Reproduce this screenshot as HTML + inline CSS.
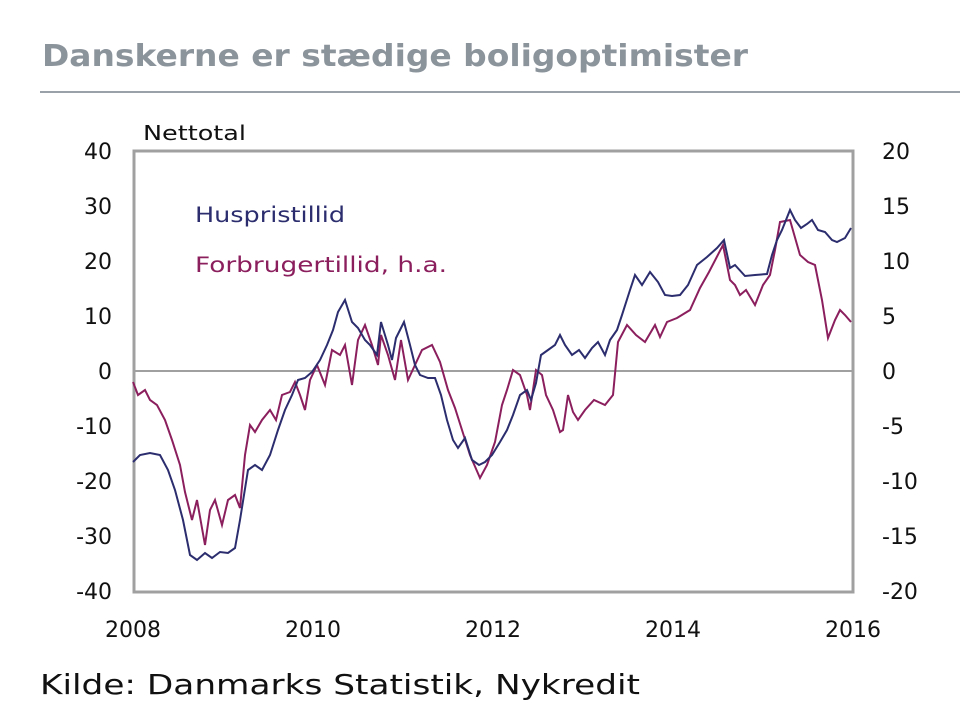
<!DOCTYPE html>
<html><head><style>
body{margin:0;background:#fff;width:960px;height:716px;overflow:hidden;font-family:"DejaVu Sans","Liberation Sans",sans-serif}
</style></head><body>
<svg width="960" height="716" xmlns="http://www.w3.org/2000/svg" style="position:absolute;left:0;top:0">
<text x="42" y="66" font-size="30" font-weight="bold" fill="#8b939b" font-family="DejaVu Sans, sans-serif" textLength="706" lengthAdjust="spacingAndGlyphs">Danskerne er stædige boligoptimister</text>
<line x1="40" y1="92" x2="960" y2="92" stroke="#9aa1a8" stroke-width="2"/>
<rect x="134" y="151" width="719" height="441" fill="none" stroke="#a0a0a0" stroke-width="3"/>
<line x1="134" y1="371" x2="853" y2="371" stroke="#a0a0a0" stroke-width="2"/>
<g font-size="22" fill="#111" font-family="DejaVu Sans, sans-serif">
<text x="143" y="140" font-size="20" textLength="103" lengthAdjust="spacingAndGlyphs">Nettotal</text>
<g text-anchor="end">
<text x="112" y="159">40</text><text x="112" y="214">30</text><text x="112" y="269">20</text><text x="112" y="324">10</text><text x="112" y="379">0</text><text x="112" y="434">-10</text><text x="112" y="489">-20</text><text x="112" y="544">-30</text><text x="112" y="599">-40</text>
</g>
<g text-anchor="start">
<text x="882" y="159">20</text><text x="882" y="214">15</text><text x="882" y="269">10</text><text x="882" y="324">5</text><text x="882" y="379">0</text><text x="882" y="434">-5</text><text x="882" y="489">-10</text><text x="882" y="544">-15</text><text x="882" y="599">-20</text>
</g>
<g text-anchor="middle">
<text x="133" y="637">2008</text><text x="313" y="637">2010</text><text x="493" y="637">2012</text><text x="673" y="637">2014</text><text x="853" y="637">2016</text>
</g>
<text x="195" y="222" fill="#2b2d6e" font-size="21" textLength="150" lengthAdjust="spacingAndGlyphs">Huspristillid</text>
<text x="195" y="272" fill="#8b1f5e" font-size="21" textLength="252" lengthAdjust="spacingAndGlyphs">Forbrugertillid, h.a.</text>
</g>
<text x="40" y="694" font-size="28" fill="#111" font-family="DejaVu Sans, sans-serif" textLength="600" lengthAdjust="spacingAndGlyphs">Kilde: Danmarks Statistik, Nykredit</text>
<polyline fill="none" stroke="#8b1f5e" stroke-width="2" points="133,382 138,395 145,390 150,400 157,405 165,420 172,440 180,465 185,492 192,520 197,500 205,545 210,510 215,500 222,525 228,500 235,495 240,508 245,455 250,425 255,432 262,420 270,410 276,420 282,395 290,392 295,382 300,395 305,410 310,380 317,365 325,385 332,350 340,355 345,345 352,385 358,340 365,325 372,345 378,365 381,335 388,355 395,380 401,340 408,380 415,365 422,350 432,345 440,362 448,390 455,408 462,430 470,455 480,478 487,465 495,442 502,405 507,390 513,370 520,375 527,395 530,410 536,370 542,375 546,395 553,410 560,432 563,430 568,395 573,412 578,420 585,410 594,400 605,405 613,395 618,342 627,325 636,335 645,342 655,325 660,337 667,322 677,318 690,310 700,288 709,272 723,245 730,280 735,285 740,295 746,290 755,305 763,285 770,275 775,250 780,222 790,220 800,255 808,262 815,265 822,300 828,338 835,320 840,310 845,315 851,322"/>
<polyline fill="none" stroke="#2b2d6e" stroke-width="2" points="133,462 140,455 150,453 160,455 168,470 175,490 183,520 190,555 197,560 205,553 212,558 220,552 228,553 235,548 240,520 248,470 255,465 262,470 270,455 278,430 285,410 292,395 298,380 305,378 312,372 320,360 327,345 333,330 338,312 345,300 352,322 358,328 365,340 370,345 377,355 381,322 388,345 392,360 396,338 404,322 410,345 415,365 420,375 428,378 435,378 441,395 447,420 453,440 458,448 465,438 472,460 479,465 485,462 492,455 500,442 507,430 513,415 520,395 527,390 531,400 536,383 541,355 548,350 555,345 560,335 565,345 572,355 579,350 585,358 592,348 598,342 605,355 610,340 617,330 622,315 630,290 635,275 642,285 650,272 658,282 665,295 672,296 680,295 688,285 697,265 707,257 717,248 724,240 730,268 735,265 745,276 755,275 767,274 772,255 777,240 782,230 790,210 795,220 801,228 807,224 812,220 818,230 825,232 832,240 837,242 845,238 851,228"/>
</svg>
</body></html>
